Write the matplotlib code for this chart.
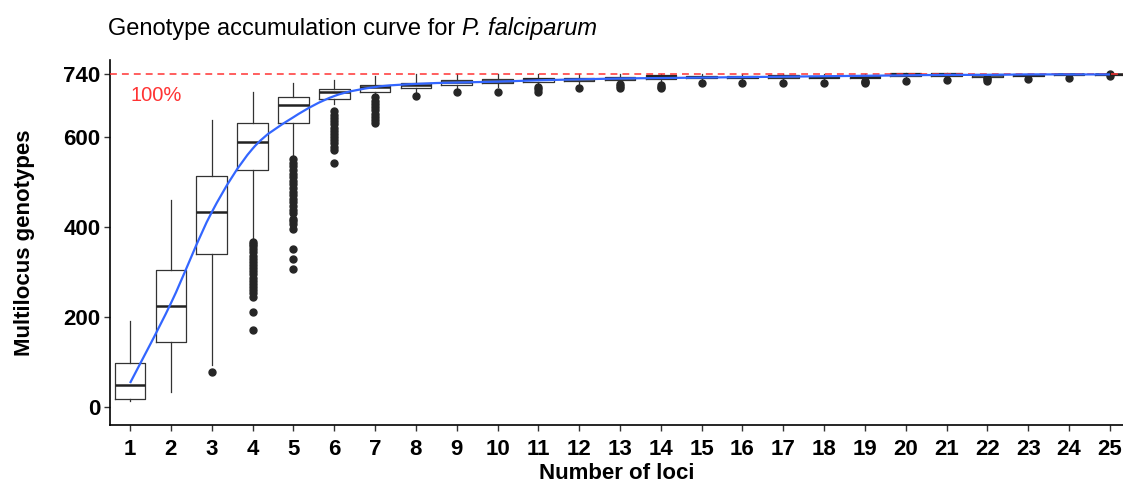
import matplotlib.pyplot as plt
from matplotlib.path import Path
from matplotlib.patches import PathPatch

plt.rcParams['font.family'] = ['Liberation Sans', 'DejaVu Sans']

loci = list(range(1, 26))

# box summaries per number of loci
q1 = [18, 144, 339, 526, 630, 684, 699, 708, 714, 720, 722, 723, 725, 728, 729, 729, 731, 730, 730, 735, 735, 733, 735, 736, 737]
med = [48, 225, 432, 587, 670, 700, 711, 714, 721, 724, 727, 727, 729, 734, 733, 733, 734, 733, 733, 738, 738, 736, 737, 738, 739]
q3 = [97, 305, 513, 631, 687, 705, 714, 718, 725, 728, 730, 731, 732, 737, 735, 735, 737, 735, 735, 741, 741, 738, 739, 740, 740]
whislo = [13, 33, 93, 370, 550, 672, 690, 700, 706, 710, 714, 716, 718, 720, 722, 723, 725, 725, 725, 728, 730, 729, 731, 733, 734]
whishi = [190, 460, 636, 698, 718, 725, 735, 738, 739, 740, 740, 740, 740, 740, 740, 740, 740, 740, 740, 740, 740, 740, 740, 740, 740]

outliers = [
    [],
    [],
    [77],
    [170, 211, 245, 252, 259, 266, 273, 280, 287, 294, 301, 308, 315, 322, 329, 336, 343, 350, 357, 362, 367],
    [306, 328, 350, 396, 405, 412, 418, 430, 438, 446, 454, 462, 470, 478, 486, 494, 502, 510, 518, 526, 534, 542, 550],
    [541, 571, 578, 585, 592, 599, 606, 613, 620, 627, 634, 641, 648, 657],
    [630, 637, 644, 651, 658, 665, 672, 680, 687],
    [690],
    [700],
    [700],
    [700, 705, 710],
    [707],
    [708, 712, 716],
    [708, 711, 715],
    [718],
    [720],
    [720],
    [720],
    [718, 721, 724],
    [723],
    [725],
    [724, 727, 730],
    [728],
    [730],
    [735, 740],
]

# smoothed mean number of genotypes
mean_curve = [53, 230, 432, 573, 643, 690, 710, 717, 720, 722, 725, 727, 729, 730, 731, 732, 733, 734, 735, 736, 737, 737, 738, 738, 738]

total = 740

fig = plt.figure(figsize=(11.23, 4.84), dpi=100)
ax = fig.add_axes([0.098, 0.122, 0.902, 0.754])

stats = []
for i in range(len(loci)):
    stats.append(dict(med=med[i], q1=q1[i], q3=q3[i], whislo=whislo[i],
                      whishi=whishi[i], fliers=outliers[i]))

ax.bxp(stats, positions=loci, widths=0.75, showcaps=False,
       boxprops=dict(color='#333333', linewidth=0.9),
       whiskerprops=dict(color='#333333', linewidth=0.9),
       medianprops=dict(color='#222222', linewidth=1.8),
       flierprops=dict(marker='o', markerfacecolor='#262626', markeredgecolor='#262626',
                       markersize=5, linestyle='none'))

# smooth line through the means (Catmull-Rom drawn as cubic Bezier segments)
verts = [(loci[0], mean_curve[0])]
codes = [Path.MOVETO]
n = len(loci)
for i in range(n - 1):
    x0, y0 = loci[max(i - 1, 0)], mean_curve[max(i - 1, 0)]
    x1, y1 = loci[i], mean_curve[i]
    x2, y2 = loci[i + 1], mean_curve[i + 1]
    x3, y3 = loci[min(i + 2, n - 1)], mean_curve[min(i + 2, n - 1)]
    verts += [(x1 + (x2 - x0) / 6, y1 + (y2 - y0) / 6),
              (x2 - (x3 - x1) / 6, y2 - (y3 - y1) / 6),
              (x2, y2)]
    codes += [Path.CURVE4] * 3
ax.add_patch(PathPatch(Path(verts, codes), facecolor='none', edgecolor='#3366FF',
                       linewidth=1.6, zorder=4))

ax.axhline(total, color='#FF3333', linestyle=(0, (4.5, 3.3)), linewidth=1.1, zorder=3)
ax.text(1.0, 692, '100%', color='#FF3333', fontsize=14.5, va='center', ha='left')

ax.set_xlim(0.51, 25.32)
ax.set_ylim(-40, 770)
ax.set_yticks([0, 200, 400, 600, 740])
ax.set_xticks(loci)
ax.set_xticklabels([str(n) for n in loci])
ax.tick_params(axis='both', length=4, width=1, color='#333333', labelsize=16, pad=3)
ax.tick_params(axis='x', pad=6)
for lab in ax.get_xticklabels() + ax.get_yticklabels():
    lab.set_fontweight('bold')
    lab.set_color('black')

for s in ['top', 'right']:
    ax.spines[s].set_visible(False)
for s in ['left', 'bottom']:
    ax.spines[s].set_linewidth(1.2)
    ax.spines[s].set_color('black')

ax.set_xlabel('Number of loci', fontsize=16, fontweight='bold', labelpad=2.5)
ax.set_ylabel('Multilocus genotypes', fontsize=16, fontweight='bold', labelpad=20)

# title: plain text followed by the italic species name
t1 = fig.text(108 / 1123, 1 - 29 / 484, 'Genotype accumulation curve for ',
              fontsize=17, va='center', ha='left')
fig.canvas.draw()
bb = t1.get_window_extent()
fig.text(bb.x1 / fig.bbox.width, 1 - 29 / 484, 'P. falciparum', fontsize=17,
         style='italic', va='center', ha='left')

fig.savefig('out.png', dpi=100)
